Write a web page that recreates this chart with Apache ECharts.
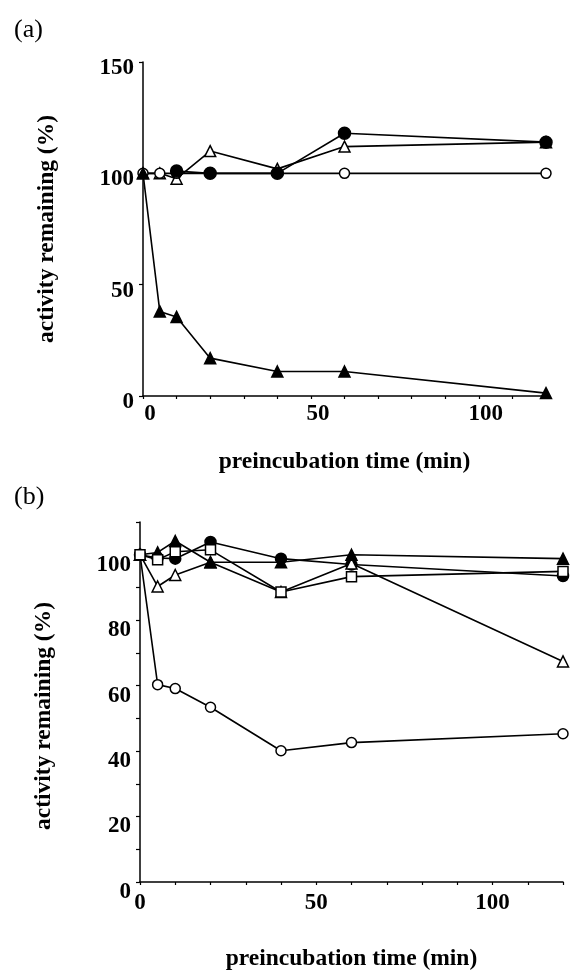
<!DOCTYPE html>
<html>
<head>
<meta charset="utf-8">
<script src="https://cdn.jsdelivr.net/npm/echarts@6/dist/echarts.min.js"></script>
<style>
  html, body { margin: 0; padding: 0; background: #fff; }
  #chart { width: 570px; height: 972px; }
</style>
</head>
<body>
<div id="chart"></div>
<script>
// preincubation times (min)
const times = [0, 5, 10, 20, 40, 60, 120];

// panel (a)
const aOpenCircle = [100, 100, 100, 100, 100, 100, 100];
const aFilledCircle = [null, null, 101, 100, 100, 118, 114];
const aOpenTri = [100, 100, 97.6, 110, 102, 112, 114];
const aFilledTri = [100, 38, 35.5, 17, 11, 11, 1.3];

// panel (b)
const bOpenCircle = [100, 60.3, 59.1, 53.4, 40.1, 42.6, 45.3];
const bFilledCircle = [100, 99, 98.8, 103.9, 98.8, 97, 93.5];
const bOpenTri = [100, 90.3, 93.8, 97.7, 88.6, 97.3, 67.4];
const bFilledTri = [100, 100.7, 104.2, 97.7, 97.7, 100, 98.8];
const bOpenSquare = [100, 98.5, 100.9, 101.5, 88.6, 93.3, 94.9];

const xLabels = [0, 50, 100];
const aYLabels = [0, 50, 100, 150];
const bYLabels = [0, 20, 40, 60, 80, 100];

const font = 'Liberation Serif';

function pairs (ys) {
  return times.map((t, i) => [t, ys[i]]);
}

function makeSeries (ys, symbol, filled, idx, size) {
  return {
    type: 'line',
    xAxisIndex: idx,
    yAxisIndex: idx,
    data: pairs(ys),
    connectNulls: true,
    symbol: symbol,
    symbolSize: size || 10,
    lineStyle: { color: '#000', width: 1.6 },
    itemStyle: {
      color: filled ? '#000' : '#fff',
      borderColor: '#000',
      borderWidth: 1.5,
      opacity: 1
    },
    emphasis: { disabled: true },
    animation: false
  };
}

function xAxis (idx, margin, gap, pad) {
  return {
    type: 'value',
    gridIndex: idx,
    min: 0,
    max: 120,
    interval: 10,
    name: 'preincubation time (min)',
    nameLocation: 'middle',
    nameGap: gap,
    nameTextStyle: { fontFamily: font, fontWeight: 'bold', fontSize: 23.5, color: '#000' },
    axisLine: { onZero: false, lineStyle: { color: '#000', width: 1.5 } },
    axisTick: { length: 3, lineStyle: { color: '#000', width: 1.2 } },
    axisLabel: {
      margin: margin,
      padding: pad,
      fontFamily: font,
      fontWeight: 'bold',
      fontSize: 23,
      color: '#000',
      formatter: v => xLabels.indexOf(v) >= 0 ? String(v) : ''
    },
    splitLine: { show: false }
  };
}

// scanned labels sit a little below their ticks, so labels are top-aligned
// with a short line height
function yAxis (idx, max, interval, labels, namePad, lineH) {
  return {
    type: 'value',
    gridIndex: idx,
    min: 0,
    max: max,
    interval: interval,
    name: 'activity remaining (%)',
    nameLocation: 'middle',
    nameGap: 84,
    nameTextStyle: {
      fontFamily: font, fontWeight: 'bold', fontSize: 23.5, color: '#000',
      padding: namePad
    },
    axisLine: { onZero: false, lineStyle: { color: '#000', width: 1.5 } },
    axisTick: { length: 4, lineStyle: { color: '#000', width: 1.2 } },
    axisLabel: {
      margin: 9,
      verticalAlign: 'top',
      lineHeight: lineH,
      fontFamily: font,
      fontWeight: 'bold',
      fontSize: 23,
      color: '#000',
      formatter: v => labels.indexOf(v) >= 0 ? String(v) : ''
    },
    splitLine: { show: false }
  };
}

const chart = echarts.init(document.getElementById('chart'));
chart.setOption({
  backgroundColor: '#fff',
  animation: false,
  title: [
    { text: '(a)', left: 9, top: 12, textStyle: { fontFamily: font, fontWeight: 'normal', fontSize: 26, color: '#000' } },
    { text: '(b)', left: 9, top: 479, textStyle: { fontFamily: font, fontWeight: 'normal', fontSize: 26, color: '#000' } }
  ],
  grid: [
    { left: 143, top: 62, width: 403, height: 334 },
    { left: 140, top: 522, width: 423, height: 362 }
  ],
  xAxis: [xAxis(0, 7, 54, [0, 0, 0, 14]), xAxis(1, 10, 65, [0, 0, 0, 0])],
  yAxis: [
    yAxis(0, 150, 50, aYLabels, [0, 0, 0, 0], 12),
    yAxis(1, 110, 10, bYLabels, [0, 28, 0, 0], 20)
  ],
  series: [
    makeSeries(aOpenTri, 'triangle', false, 0, 11),
    makeSeries(aOpenCircle, 'circle', false, 0, 10),
    makeSeries(aFilledCircle, 'circle', true, 0, 12),
    makeSeries(aFilledTri, 'triangle', true, 0, 11),

    makeSeries(bOpenCircle, 'circle', false, 1, 10),
    makeSeries(bFilledCircle, 'circle', true, 1, 11),
    makeSeries(bOpenTri, 'triangle', false, 1, 11),
    makeSeries(bFilledTri, 'triangle', true, 1, 11),
    makeSeries(bOpenSquare, 'rect', false, 1, 10)
  ]
});
</script>
</body>
</html>
